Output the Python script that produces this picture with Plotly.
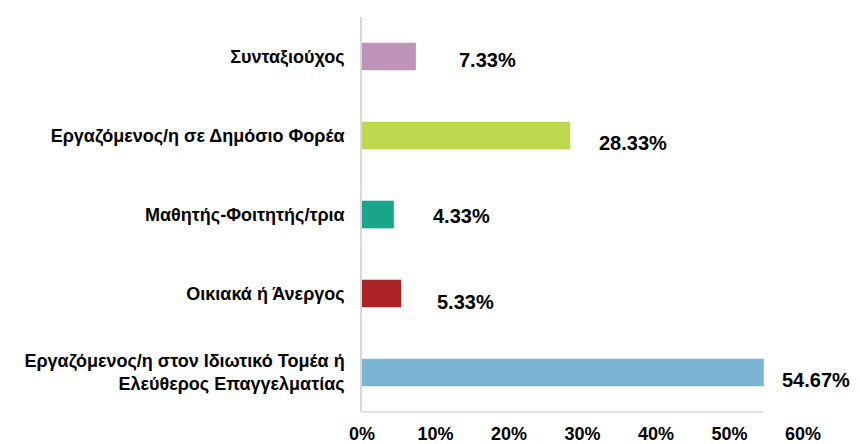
import plotly.graph_objects as go

# data (top to bottom as shown)
categories = ['Συνταξιούχος',
              'Εργαζόμενος/η σε Δημόσιο Φορέα',
              'Μαθητής-Φοιτητής/τρια',
              'Οικιακά ή Άνεργος',
              'Εργαζόμενος/η στον Ιδιωτικό Τομέα ή<br>Ελεύθερος Επαγγελματίας']
values = [7.33, 28.33, 4.33, 5.33, 54.67]
x_ticks = [0, 10, 20, 30, 40, 50, 60]
x_tick_labels = ['0%', '10%', '20%', '30%', '40%', '50%', '60%']

bar_colors = ['#BF94BA', '#BDD84D', '#18A589', '#AC2326', '#7CB4D4']
# label offsets in px (gap from bar end, vertical nudge)
label_xshift = [41, 27, 37, 34, 16]
label_yshift = [-3, -7, -1, -8, -7]

font_family = 'Arial, Liberation Sans, sans-serif'

fig = go.Figure()
fig.add_bar(x=values, y=categories, orientation='h',
            marker_color=bar_colors, marker_line_width=0,
            width=0.35, hoverinfo='x+y')

for cat, v, dx, dy in zip(categories, values, label_xshift, label_yshift):
    fig.add_annotation(x=v, y=cat, text=f'<b>{v:.2f}%</b>',
                       showarrow=False, xanchor='left', xshift=dx, yshift=dy,
                       font=dict(size=20, color='#000000', family=font_family))

# bottom baseline runs only to the longest bar
fig.add_shape(type='line', xref='x', yref='paper',
              x0=0, x1=max(values), y0=0, y1=0,
              line=dict(color='#D9D9D9', width=1.5))

fig.update_xaxes(range=[0, 60], tickvals=x_ticks, ticktext=[f'<b>{t}</b>' for t in x_tick_labels],
                 showgrid=False, zeroline=False, showline=False,
                 ticks='outside', ticklen=5, tickcolor='rgba(0,0,0,0)',
                 tickfont=dict(size=18, color='#000000', family=font_family),
                 automargin=False, fixedrange=True)
fig.update_yaxes(autorange='reversed', showgrid=False, zeroline=False,
                 showline=True, linecolor='#D9D9D9', linewidth=1.5,
                 ticks='outside', ticklen=12, tickcolor='rgba(0,0,0,0)',
                 tickfont=dict(size=18, color='#000000', family=font_family),
                 tickprefix='<b>', ticksuffix='</b>',
                 automargin=False, fixedrange=True)

# page body adds an 8px offset, so the figure is 8px smaller each way
fig.update_layout(width=852, height=436,
                  margin=dict(l=354, r=57, t=9, b=32),
                  paper_bgcolor='white', plot_bgcolor='white',
                  showlegend=False, bargap=0.65,
                  font=dict(family=font_family))

fig.write_html('out.html', config={'displayModeBar': False})
